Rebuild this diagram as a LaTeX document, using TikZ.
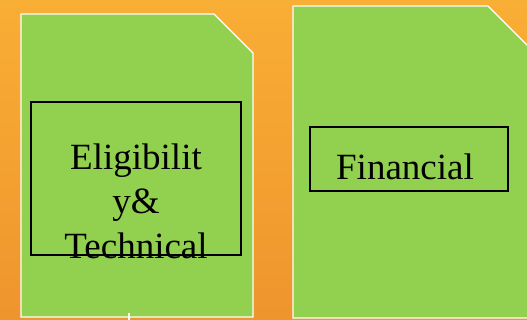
\documentclass[tikz,border=0pt]{standalone}
\usepackage{fontspec}
\setmainfont{Liberation Serif}
\usepackage{tikz}
\usetikzlibrary{calc}

\definecolor{bgtop}{HTML}{F9AE35}
\definecolor{bgbot}{HTML}{EE952D}
\definecolor{sheet}{HTML}{92D050}

\tikzset{
	sheetshape/.style={fill=sheet, draw=white, line width=1.2pt, line join=miter},
	labelbox/.style={draw=black, line width=1.2pt, inner sep=0pt},
	labeltext/.style={font=\fontsize{37}{44.5}\selectfont, inner sep=0pt, align=center}
}

\begin{document}
\begin{tikzpicture}[x=1pt, y=-1pt]

% background %{{{2

	\useasboundingbox (0,0) rectangle (527,320);
	\shade[top color=bgtop, bottom color=bgbot] (0,0) rectangle (527,320);
	\clip (0,0) rectangle (527,320);

% sheets %{{{2

	\draw[sheetshape] (21,14) -- (214,14) -- (253,53) -- (253,317) -- (21,317) -- cycle;
	\draw[sheetshape] (293,6) -- (488,6) -- (530,48) -- (530,318) -- (293,318) -- cycle;

	\coordinate (T1) at (129,313);
	\coordinate (T2) at (129,320);
	\draw[white, line width=1.2pt] (T1) -- (T2);

% boxes %{{{2

	\node[labelbox, minimum width=210pt, minimum height=153pt] (tech) at (136,178.5) {};
	\node[labelbox, minimum width=198pt, minimum height=64pt] (fin) at (409,159) {};

% labels %{{{2

	\node[labeltext] (techtext) at (136,201) {Eligibilit\\y\&\\Technical};
	\node[labeltext, anchor=base] (fintext) at (405,180) {Financial};

% closing %{{{2

\end{tikzpicture}
\end{document}
